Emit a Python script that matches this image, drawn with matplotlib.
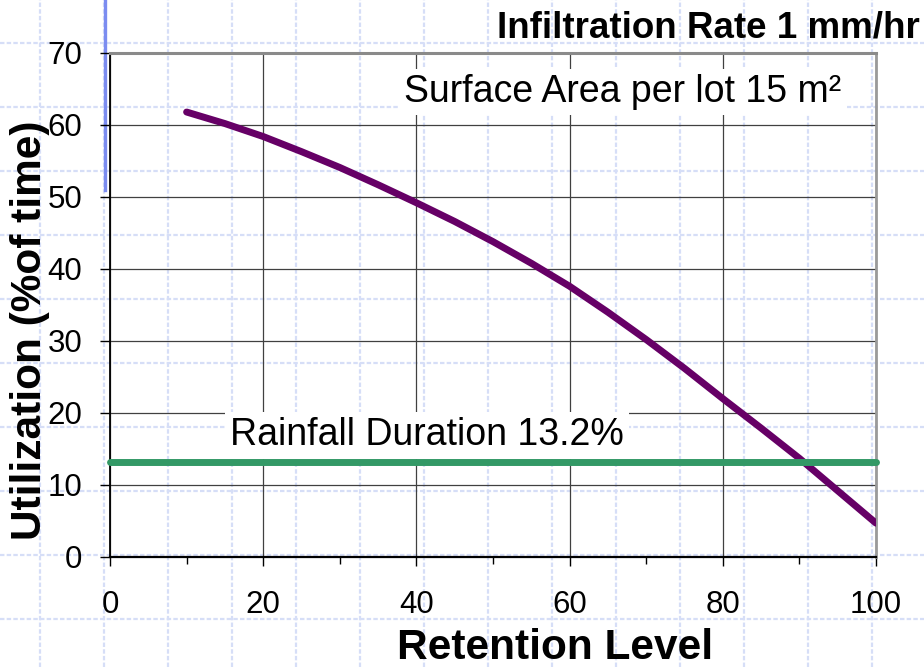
import matplotlib
matplotlib.use("Agg")
import matplotlib.pyplot as plt
from matplotlib.lines import Line2D
from matplotlib.ticker import MultipleLocator

plt.rcParams['font.family'] = ['Liberation Sans', 'DejaVu Sans']

# ---- data ----
retention = [10, 15, 20, 25, 30, 35, 40, 45, 50, 55, 60, 65, 70, 75, 80, 85, 90, 95, 100]
utilization = [61.8, 60.2, 58.4, 56.3, 54.1, 51.7, 49.2, 46.6, 43.8, 40.8, 37.6,
               34.0, 30.2, 26.2, 22.0, 17.9, 13.7, 9.2, 4.7]
rain_x = [0, 100]
rain_y = [13.2, 13.2]
x_ticks = [0, 20, 40, 60, 80, 100]
y_ticks = [0, 10, 20, 30, 40, 50, 60, 70]
title = "Infiltration Rate 1 mm/hr"
note_area = "Surface Area per lot 15 m²"
note_rain = "Rainfall Duration 13.2%"

W, H = 924, 667
fig = plt.figure(figsize=(W / 100, H / 100), dpi=100)
fig.patch.set_facecolor('white')

# decorative background pattern (template)
pat_col = '#d6def7'
for px in range(40, W, 64):
    fig.add_artist(Line2D([px / W, px / W], [0, 1], color=pat_col, lw=1.6,
                          ls=(0, (2, 1)), zorder=-2, transform=fig.transFigure))
for py in range(43, H, 64):
    fig.add_artist(Line2D([0, 1], [1 - py / H, 1 - py / H], color=pat_col, lw=1.6,
                          ls=(0, (2, 1)), zorder=-2, transform=fig.transFigure))
# blue decorative bar
fig.add_artist(Line2D([105 / W, 105 / W], [1, 1 - 190 / H], color='#7b8cf0', lw=2.4,
                      zorder=-1, transform=fig.transFigure))

ax = fig.add_axes([110 / W, 1 - 557 / H, 766 / W, 504 / H])
ax.set_facecolor('none')
ax.set_xlim(0, 100)
ax.set_ylim(0, 70)
ax.set_xticks(x_ticks)
ax.set_yticks(y_ticks)
ax.xaxis.set_minor_locator(MultipleLocator(10))
ax.set_axisbelow(True)

ax.grid(True, axis='y', which='major', color='#404040', lw=0.9)
ax.grid(True, axis='x', which='major', color='#404040', lw=0.9)

ax.tick_params(axis='y', which='major', direction='out', length=7, width=1,
               labelsize=22.5, pad=13, color='black')
ax.tick_params(axis='x', which='major', direction='out', length=6.5, width=1,
               labelsize=22.5, pad=17, color='black')
ax.tick_params(axis='x', which='minor', direction='out', length=5, width=1, color='black')

ax.spines['left'].set_color('black'); ax.spines['left'].set_linewidth(1.3)
ax.spines['bottom'].set_color('black'); ax.spines['bottom'].set_linewidth(1.6)
ax.spines['top'].set_color('#8a8a8a'); ax.spines['top'].set_linewidth(2.2)
ax.spines['right'].set_color('#9a9a9a'); ax.spines['right'].set_linewidth(2.0)

ax.plot(retention, utilization, color='#660066', lw=5, solid_capstyle='round',
        solid_joinstyle='round', zorder=4)
ax.plot(rain_x, rain_y, color='#339966', lw=5, solid_capstyle='round', zorder=5, clip_on=False)

ax.text(38.4, 64.6, note_area, fontsize=27, ha='left', va='center', zorder=3,
        bbox=dict(boxstyle='square,pad=0.14', fc='white', ec='none'))
ax.text(15.7, 16.9, note_rain, fontsize=27, ha='left', va='center', zorder=3,
        bbox=dict(boxstyle='square,pad=0.14', fc='white', ec='none'))

ax.set_xlabel("Retention Level", fontsize=30.5, fontweight='bold', va='center')
ax.xaxis.set_label_coords(0.581, -0.18)
ax.set_ylabel("Utilization (%of time)", fontsize=30.5, fontweight='bold', va='center')
ax.yaxis.set_label_coords(-0.104, 0.45)

fig.text(920 / W, 1 - 37 / H, title, fontsize=26.5, fontweight='bold',
         ha='right', va='baseline')

fig.savefig('out.png', dpi=100, facecolor='white')
